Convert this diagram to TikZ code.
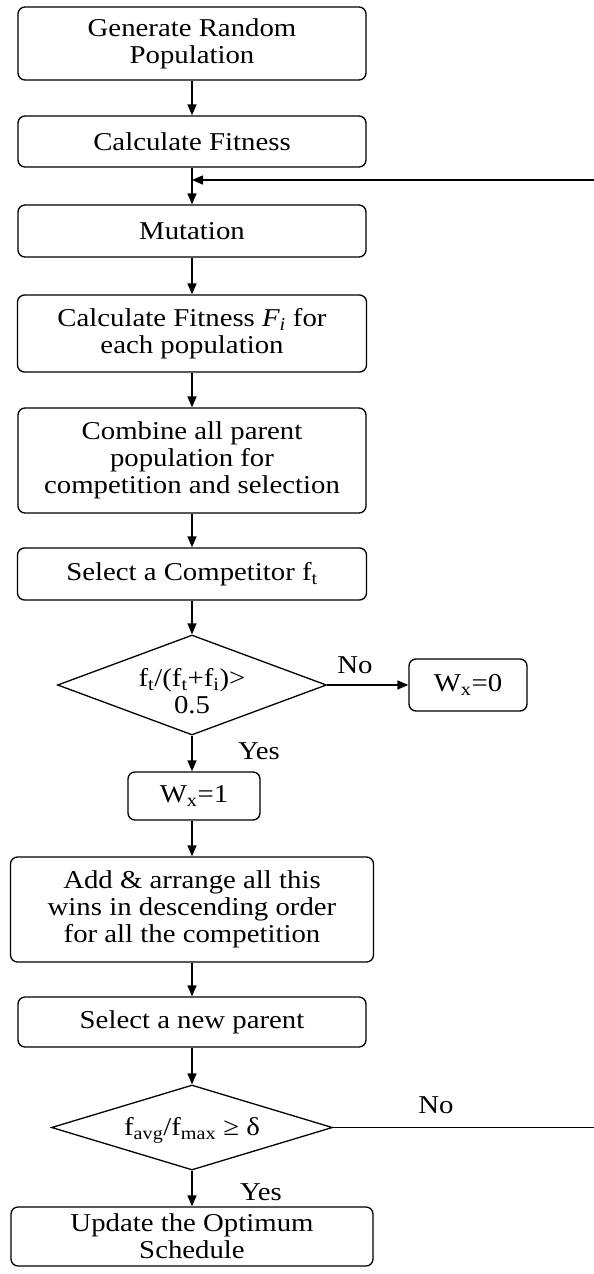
\documentclass[tikz,border=0pt]{standalone}
\usepackage{fontspec}
\setmainfont{Liberation Serif}[FakeStretch=1.12]
\usetikzlibrary{shapes.geometric,arrows.meta}
\begin{document}
\begin{tikzpicture}[x=1pt,y=-1pt,
  txt/.style={font=\fontsize{25.7}{27}\selectfont, text=black},
  box/.style={txt, draw=black, fill=white, line width=1.3pt, rounded corners=7pt, align=center, inner sep=0pt},
  dia/.style={txt, draw=black, fill=white, line width=1.3pt, diamond, inner sep=0pt, align=center},
  lbl/.style={txt, inner sep=0pt},
  flow/.style={-{Triangle[length=11pt,width=9pt]}, line width=1.3pt, draw=black},
  plain/.style={line width=1.3pt, draw=black}]
\useasboundingbox (0,0) rectangle (594,1274);
\fill[white] (0,0) rectangle (594,1274);

\node[box, minimum width=348pt, minimum height=73pt] (b1) at (192,43.5) {Generate Random\\Population};
\node[box, minimum width=348pt, minimum height=51pt] (b2) at (192,141.5) {Calculate Fitness};
\node[box, minimum width=348pt, minimum height=52pt] (b3) at (192,231) {Mutation};
\node[box, minimum width=349pt, minimum height=77pt] (b4) at (192,333.5) {Calculate Fitness \textit{F\textsubscript{i}} for\\each population};
\node[box, minimum width=348pt, minimum height=105pt] (b5) at (192,460.5) {Combine all parent\\population for\\competition and selection};
\node[box, minimum width=349pt, minimum height=52pt] (b6) at (192,574) {Select a Competitor f\textsubscript{t}};
\node[dia, minimum width=269pt, minimum height=100pt] (d1) at (192,685)
  {\smash{\makebox[0pt]{\raisebox{-16pt}{\begin{tabular}{@{}c@{}}f\textsubscript{t}/(f\textsubscript{t}+f\textsubscript{i})>\\0.5\end{tabular}}}}};
\node[box, minimum width=118pt, minimum height=52pt] (wx0) at (468,685) {W\textsubscript{x}=0};
\node[box, minimum width=132pt, minimum height=48pt] (wx1) at (194,796) {W\textsubscript{x}=1};
\node[box, minimum width=363pt, minimum height=105pt] (b7) at (192,909.5) {Add \& arrange all this\\wins in descending order\\for all the competition};
\node[box, minimum width=348pt, minimum height=50pt] (b8) at (192,1022) {Select a new parent};
\node[dia, minimum width=281pt, minimum height=85pt] (d2) at (192,1127.5)
  {\smash{\makebox[0pt]{\raisebox{-8pt}{f\textsubscript{avg}/f\textsubscript{max} ≥ δ}}}};
\node[box, minimum width=362pt, minimum height=59pt] (b9) at (192,1236.5) {Update the Optimum\\Schedule};

\node[lbl] (no1) at (355,665) {No};
\node[lbl] (yes1) at (259,751) {Yes};
\node[lbl] (no2) at (436,1105) {No};
\node[lbl] (yes2) at (261,1192) {Yes};

\coordinate (fbtop) at (594,180);
\coordinate (fbjoin) at (192,180);
\coordinate (fbbot) at (594,1127.5);

\draw[flow] (b1) -- (b2);
\draw[flow] (b2) -- (b3);
\draw[flow] (b3) -- (b4);
\draw[flow] (b4) -- (b5);
\draw[flow] (b5) -- (b6);
\draw[flow] (b6) -- (d1);
\draw[flow] (d1.east) -- (wx0.west);
\draw[flow] (d1.south) -- (d1.south |- wx1.north);
\draw[flow] (wx1.south -| b7.north) -- (b7.north);
\draw[flow] (b7) -- (b8);
\draw[flow] (b8) -- (d2);
\draw[flow] (d2) -- (b9);
\draw[plain] (d2.east) -- (fbbot);
\draw[flow] (fbtop) -- (fbjoin);
\end{tikzpicture}
\end{document}
